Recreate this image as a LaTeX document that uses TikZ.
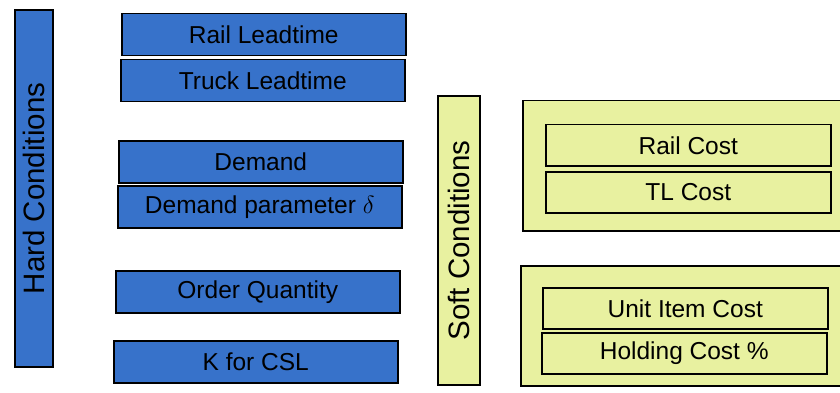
\documentclass[tikz,border=0pt]{standalone}
\usepackage{fontspec}
\setmainfont{Liberation Sans}
\definecolor{hardblue}{RGB}{55,114,202}
\definecolor{softyellow}{RGB}{232,241,160}
\begin{document}
\begin{tikzpicture}[x=1pt,y=-1pt,
  outline/.style={draw=black, line width=1.5pt, inner sep=0pt},
  hardbox/.style={outline, fill=hardblue, anchor=north west, minimum width=284pt, minimum height=42pt, font=\fontsize{24.5}{27}\selectfont},
  hardlabel/.style={outline, fill=hardblue, rotate=90, font=\fontsize{29.5}{32}\selectfont},
  softlabel/.style={outline, fill=softyellow, rotate=90, font=\fontsize{29.5}{32}\selectfont},
  softpanel/.style={outline, fill=softyellow, anchor=north west},
  softbox/.style={outline, fill=softyellow, anchor=north west, minimum width=285pt, minimum height=41pt, font=\fontsize{24.5}{27}\selectfont}]
\useasboundingbox (0,0) rectangle (840,393);
\clip (0,0) rectangle (840,393);
% hard conditions
\node[hardlabel, minimum width=357pt, minimum height=38pt] (hard) at (34,188.5) {Hard Conditions};
\node[hardbox] (rail) at (121,13) {Rail Leadtime};
\node[hardbox] (truck) at (120,59) {Truck Leadtime};
\node[hardbox] (demand) at (118,140) {Demand};
\node[hardbox] (delta) at (117,185) {Demand parameter $\delta$};
\node[hardbox] (order) at (115,270) {Order Quantity};
\node[hardbox] (ksl) at (113,340) {K for CSL};
% soft conditions
\node[softlabel, minimum width=289pt, minimum height=42pt] (soft) at (459,240.5) {Soft Conditions};
\node[softpanel, minimum width=330pt, minimum height=130pt] (panelA) at (522,100) {};
\node[softpanel, minimum width=330pt, minimum height=120pt] (panelB) at (520,265) {};
\node[softbox] (railcost) at (545,124) {Rail Cost};
\node[softbox] (tlcost) at (545,171) {TL Cost};
\node[softbox] (unit) at (542,287) {Unit Item Cost};
\node[softbox] (holding) at (541,332) {Holding Cost \%};
\end{tikzpicture}
\end{document}
